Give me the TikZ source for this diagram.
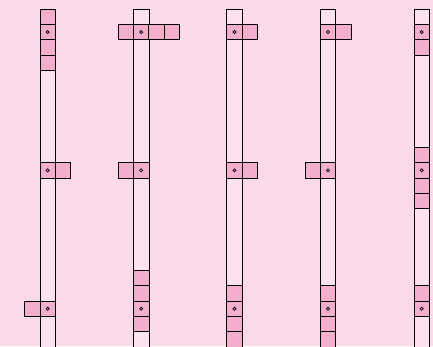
\documentclass[tikz,border=0pt]{standalone}
\definecolor{bgpink}{RGB}{250,217,233}
\definecolor{cellpink}{RGB}{243,174,206}
\definecolor{colfill}{RGB}{252,225,238}
\begin{document}
\begin{tikzpicture}[x=1pt,y=-1pt,line width=0.8pt,
  cellbox/.style={rectangle,draw=black,fill=cellpink,minimum size=15.4pt,inner sep=0pt,outer sep=0pt},
  dotmark/.style={circle,draw=black,fill=cellpink,minimum size=3.2pt,inner sep=0pt,line width=0.7pt},
  colbar/.style={rectangle,draw=black,fill=colfill,minimum width=15.4pt,minimum height=360pt,inner sep=0pt,outer sep=0pt,anchor=north}]
\fill[bgpink] (0,0) rectangle (433,346);
\useasboundingbox (0,0) rectangle (433,346);
\clip (0,0) rectangle (433,346);
% columns
\node[colbar] (col1) at (47.7,9) {};
\node[colbar] (col2) at (141.2,9) {};
\node[colbar] (col3) at (234.5,9) {};
\node[colbar] (col4) at (328,9) {};
\node[colbar] (col5) at (421.7,9) {};
% column 1
\node[cellbox] (a0) at (47.7,16.69) {};
\node[cellbox] (a1) at (47.7,32.06) {};
\node[cellbox] (a2) at (47.7,47.43) {};
\node[cellbox] (a3) at (47.7,62.80) {};
\node[cellbox] (a10) at (47.7,170.35) {};
\node[cellbox] (a10r) at (63.07,170.35) {};
\node[cellbox] (a19l) at (32.33,308.68) {};
\node[cellbox] (a19) at (47.7,308.68) {};
\node[dotmark] (da1) at (a1) {};
\node[dotmark] (da10) at (a10) {};
\node[dotmark] (da19) at (a19) {};
% column 2
\node[cellbox] (b1l) at (125.83,32.06) {};
\node[cellbox] (b1) at (141.2,32.06) {};
\node[cellbox] (b1r) at (156.57,32.06) {};
\node[cellbox] (b1rr) at (171.94,32.06) {};
\node[cellbox] (b10l) at (125.83,170.35) {};
\node[cellbox] (b10) at (141.2,170.35) {};
\node[cellbox] (b17) at (141.2,277.94) {};
\node[cellbox] (b18) at (141.2,293.31) {};
\node[cellbox] (b19) at (141.2,308.68) {};
\node[cellbox] (b20) at (141.2,324.05) {};
\node[dotmark] (db1) at (b1) {};
\node[dotmark] (db10) at (b10) {};
\node[dotmark] (db19) at (b19) {};
% column 3
\node[cellbox] (c1) at (234.5,32.06) {};
\node[cellbox] (c1r) at (249.87,32.06) {};
\node[cellbox] (c10) at (234.5,170.35) {};
\node[cellbox] (c10r) at (249.87,170.35) {};
\node[cellbox] (c18) at (234.5,293.31) {};
\node[cellbox] (c19) at (234.5,308.68) {};
\node[cellbox] (c20) at (234.5,324.05) {};
\node[cellbox] (c21) at (234.5,339.42) {};
\node[dotmark] (dc1) at (c1) {};
\node[dotmark] (dc10) at (c10) {};
\node[dotmark] (dc19) at (c19) {};
% column 4
\node[cellbox] (d1) at (328,32.06) {};
\node[cellbox] (d1r) at (343.37,32.06) {};
\node[cellbox] (d10l) at (312.63,170.35) {};
\node[cellbox] (d10) at (328,170.35) {};
\node[cellbox] (d18) at (328,293.31) {};
\node[cellbox] (d19) at (328,308.68) {};
\node[cellbox] (d20) at (328,324.05) {};
\node[cellbox] (d21) at (328,339.42) {};
\node[dotmark] (dd1) at (d1) {};
\node[dotmark] (dd10) at (d10) {};
\node[dotmark] (dd19) at (d19) {};
% column 5
\node[cellbox] (e1) at (421.7,32.06) {};
\node[cellbox] (e2) at (421.7,47.43) {};
\node[cellbox] (e9) at (421.7,154.97) {};
\node[cellbox] (e10) at (421.7,170.35) {};
\node[cellbox] (e11) at (421.7,185.72) {};
\node[cellbox] (e12) at (421.7,201.09) {};
\node[cellbox] (e18) at (421.7,293.31) {};
\node[cellbox] (e19) at (421.7,308.68) {};
\node[dotmark] (de1) at (e1) {};
\node[dotmark] (de10) at (e10) {};
\node[dotmark] (de19) at (e19) {};
\end{tikzpicture}
\end{document}
